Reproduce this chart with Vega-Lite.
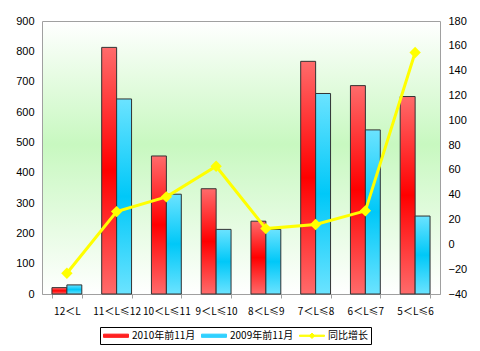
{
  "$schema": "https://vega.github.io/schema/vega-lite/v6.json",
  "width": 398,
  "height": 273,
  "autosize": {"type": "none"},
  "padding": {"left": 42, "top": 21, "right": 40, "bottom": 57},
  "background": "white",
  "config": {
    "view": {
      "stroke": "#a0a0a0",
      "fill": {"gradient": "linear", "x1": 0, "y1": 0, "x2": 0, "y2": 1,
        "stops": [{"offset": 0, "color": "#ffffff"}, {"offset": 0.45, "color": "#c8f8c0"}, {"offset": 1, "color": "#ffffff"}]}
    },
    "axis": {"labelFont": "Liberation Sans", "labelFontSize": 11, "labelColor": "#000000", "grid": false, "domainColor": "#a0a0a0", "tickColor": "#a0a0a0", "title": null}
  },
  "datasets": {
    "bars": [
      {"cat": "12＜L", "series": "2010年前11月", "v": 21},
      {"cat": "12＜L", "series": "2009年前11月", "v": 30},
      {"cat": "11＜L≤12", "series": "2010年前11月", "v": 813},
      {"cat": "11＜L≤12", "series": "2009年前11月", "v": 643},
      {"cat": "10＜L≤11", "series": "2010年前11月", "v": 455},
      {"cat": "10＜L≤11", "series": "2009年前11月", "v": 329},
      {"cat": "9＜L≤10", "series": "2010年前11月", "v": 347},
      {"cat": "9＜L≤10", "series": "2009年前11月", "v": 213},
      {"cat": "8＜L≤9", "series": "2010年前11月", "v": 240},
      {"cat": "8＜L≤9", "series": "2009年前11月", "v": 213},
      {"cat": "7＜L≤8", "series": "2010年前11月", "v": 767},
      {"cat": "7＜L≤8", "series": "2009年前11月", "v": 661},
      {"cat": "6＜L≤7", "series": "2010年前11月", "v": 687},
      {"cat": "6＜L≤7", "series": "2009年前11月", "v": 541},
      {"cat": "5＜L≤6", "series": "2010年前11月", "v": 651},
      {"cat": "5＜L≤6", "series": "2009年前11月", "v": 257}
    ],
    "growth": [
      {"cat": "12＜L", "series": "同比增长", "g": -23.3},
      {"cat": "11＜L≤12", "series": "同比增长", "g": 26.4},
      {"cat": "10＜L≤11", "series": "同比增长", "g": 38.3},
      {"cat": "9＜L≤10", "series": "同比增长", "g": 62.9},
      {"cat": "8＜L≤9", "series": "同比增长", "g": 12.7},
      {"cat": "7＜L≤8", "series": "同比增长", "g": 16},
      {"cat": "6＜L≤7", "series": "同比增长", "g": 27},
      {"cat": "5＜L≤6", "series": "同比增长", "g": 154.6}
    ]
  },
  "encoding": {
    "x": {
      "field": "cat", "type": "nominal", "sort": null,
      "scale": {"paddingInner": 0.4, "paddingOuter": 0.2},
      "axis": {"labelAngle": 0, "labelFont": "Noto Sans CJK SC", "labelFontSize": 10, "labelPadding": 8, "ticks": true, "tickBand": "extent", "tickSize": 4, "labelLimit": 60}
    }
  },
  "layer": [
    {
      "layer": [
        {
          "transform": [{"filter": "datum.series == '2010年前11月'"}],
          "mark": {"type": "bar", "stroke": "#333333", "strokeWidth": 1,
            "fill": {"gradient": "linear", "x1": 0, "y1": 0, "x2": 0, "y2": 1, "stops": [{"offset": 0, "color": "#ff6b6b"}, {"offset": 0.5, "color": "#ff0000"}, {"offset": 1, "color": "#ff6b6b"}]}},
          "encoding": {
            "xOffset": {"field": "series", "type": "nominal", "scale": {"domain": ["2010年前11月", "2009年前11月"], "paddingInner": 0, "paddingOuter": 0}},
            "y": {"field": "v", "type": "quantitative"}
          }
        },
        {
          "transform": [{"filter": "datum.series == '2009年前11月'"}],
          "mark": {"type": "bar", "stroke": "#333333", "strokeWidth": 1,
            "fill": {"gradient": "linear", "x1": 0, "y1": 0, "x2": 0, "y2": 1, "stops": [{"offset": 0, "color": "#6be3ff"}, {"offset": 0.5, "color": "#00c8f8"}, {"offset": 1, "color": "#6be3ff"}]}},
          "encoding": {
            "xOffset": {"field": "series", "type": "nominal"},
            "y": {"field": "v", "type": "quantitative"}
          }
        }
      ],
      "data": {"name": "bars"},
      "encoding": {
        "y": {"field": "v", "type": "quantitative", "scale": {"domain": [0, 900], "nice": false}, "axis": {"values": [0,100,200,300,400,500,600,700,800,900], "orient": "left", "domain": false, "ticks": false, "labelPadding": 8}}
      }
    },
    {
      "data": {"name": "growth"},
      "mark": {"type": "line", "strokeWidth": 3, "point": {"shape": "diamond", "size": 130, "filled": true, "color": "#ffff00"}},
      "encoding": {
        "y": {"field": "g", "type": "quantitative", "scale": {"domain": [-40, 180], "nice": false}, "axis": {"values": [-40,-20,0,20,40,60,80,100,120,140,160,180], "orient": "right", "domain": false, "ticks": false, "labelPadding": 8}},
        "color": {
          "field": "series", "type": "nominal",
          "scale": {"domain": ["2010年前11月", "2009年前11月", "同比增长"], "range": ["#ff2020", "#30d0ff", "#ffff00"]},
          "legend": {
            "orient": "none", "legendX": 58, "legendY": 306, "direction": "horizontal", "title": null,
            "strokeColor": "#000000", "padding": 3,
            "labelFont": "Noto Sans CJK SC", "labelFontSize": 10, "labelColor": "#000000",
            "columnPadding": 3, "labelOffset": 18,
            "symbolSize": 100,
            "encode": {
              "symbols": {
                "update": {
                  "shape": {"signal": "datum.value == '同比增长' ? 'M-1,-0.12H4V0.12H-1Z M1.5,-0.55L2.05,0L1.5,0.55L0.95,0Z' : 'M-1,-0.32H4V0.32H-1Z'"},
                  "fill": {"signal": "scale('color', datum.value)"},
                  "stroke": {"signal": "datum.value == '同比增长' ? '#ffff00' : '#000000'"},
                  "strokeWidth": {"value": 1},
                  "opacity": {"value": 1},
                  "fillOpacity": {"value": 1}
                }
              }
            }
          }
        }
      }
    }
  ],
  "resolve": {"scale": {"y": "independent"}}
}
